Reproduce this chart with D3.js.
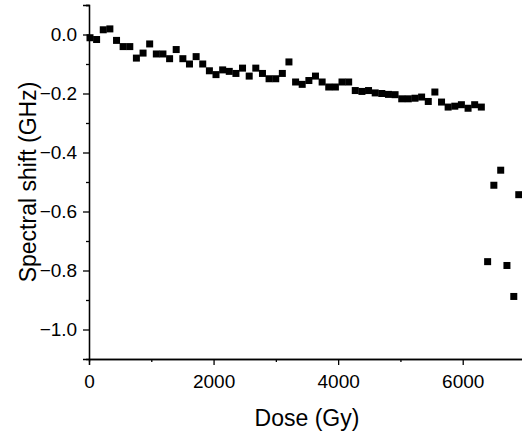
<!DOCTYPE html>
<html><head><meta charset="utf-8">
<script src="https://cdn.jsdelivr.net/npm/d3@7"></script>
<style>body{margin:0;background:#fff}svg{display:block}text{font-family:"Liberation Sans",Arial,sans-serif}</style>
</head><body>
<script>
const dose = [16,122,229,335,442,548,655,761,868,974,1081,1187,1294,1400,1507,1613,1720,1826,1933,2039,2146,2252,2359,2465,2572,2678,2785,2891,2998,3104,3210,3317,3423,3530,3636,3743,3849,3956,4062,4169,4275,4382,4488,4595,4701,4808,4914,5021,5127,5234,5340,5447,5553,5660,5766,5873,5979,6086,6192,6299,6400,6500,6610,6710,6820,6900];
const shift = [-0.011,-0.017,0.016,0.019,-0.020,-0.041,-0.041,-0.080,-0.063,-0.032,-0.066,-0.066,-0.082,-0.051,-0.082,-0.100,-0.075,-0.100,-0.123,-0.136,-0.120,-0.125,-0.132,-0.114,-0.141,-0.114,-0.132,-0.150,-0.150,-0.132,-0.093,-0.161,-0.169,-0.156,-0.141,-0.161,-0.178,-0.178,-0.161,-0.161,-0.190,-0.193,-0.190,-0.198,-0.200,-0.203,-0.204,-0.218,-0.218,-0.216,-0.212,-0.227,-0.195,-0.229,-0.246,-0.243,-0.238,-0.250,-0.238,-0.246,-0.77,-0.511,-0.46,-0.783,-0.888,-0.543];
const xTicks = [0,2000,4000,6000];
const yTicks = [0.0,-0.2,-0.4,-0.6,-0.8,-1.0];

const W=522,H=435, L=89;
const svg=d3.select("body").append("svg").attr("width",W).attr("height",H);
const x=d3.scaleLinear().domain([0,7000]).range([L,L+436]);
const y=d3.scaleLinear().domain([0.1,-1.10]).range([5,359]);
const B=y(-1.10);

const xa=svg.append("g").attr("transform",`translate(0,${B})`)
  .call(d3.axisBottom(x).tickValues(xTicks).tickSize(6).tickFormat(d3.format("d")));
svg.append("g").attr("transform",`translate(0,${B})`)
  .call(d3.axisBottom(x).tickValues([1000,3000,5000,7000]).tickSize(3).tickFormat(""));
const ya=svg.append("g").attr("transform",`translate(${L},0)`)
  .call(d3.axisLeft(y).tickValues(yTicks).tickSize(6).tickFormat(d3.format(".1f")));
svg.append("g").attr("transform",`translate(${L},0)`)
  .call(d3.axisLeft(y).tickValues([0.1,-0.1,-0.3,-0.5,-0.7,-0.9]).tickSize(3).tickFormat(""));
svg.selectAll(".domain").attr("stroke","#000").attr("stroke-width",1.3);
svg.selectAll(".tick line").attr("stroke","#000").attr("stroke-width",1.3);
svg.selectAll(".tick text").attr("font-size",19).attr("fill","#000")
  .attr("font-family","Liberation Sans, Arial, sans-serif");
xa.selectAll(".tick text").attr("dy","1.05em");
ya.selectAll(".tick text").attr("dx","-0.15em");

svg.append("g").selectAll("rect").data(dose).join("rect")
  .attr("x",(d)=>x(d)-3.5).attr("y",(d,i)=>y(shift[i])-3.5)
  .attr("width",7).attr("height",7).attr("fill","#000");

svg.append("text").attr("x",307).attr("y",426).attr("text-anchor","middle")
  .attr("font-size",23).text("Dose (Gy)");
svg.append("text").attr("transform",`translate(36,${(5+B)/2}) rotate(-90)`).attr("text-anchor","middle")
  .attr("font-size",23).text("Spectral shift (GHz)");
</script></body></html>
